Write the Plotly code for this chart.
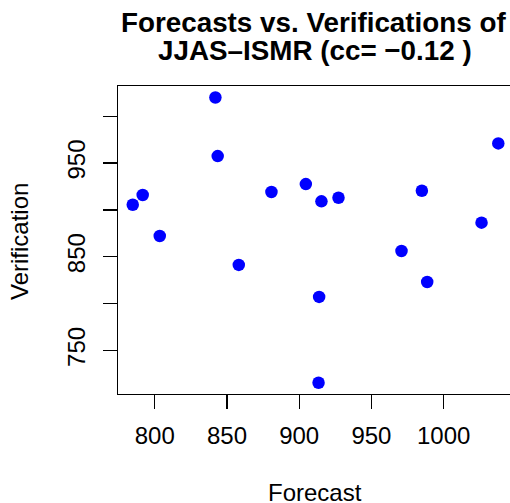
import plotly.graph_objects as go

forecast = [842.0, 843.6, 791.7, 784.8, 803.5, 880.8, 904.6, 915.4, 927.2,
            984.9, 1037.8, 1026.2, 858.2, 970.8, 988.6, 913.8, 913.4]
verification = [1020.0, 957.5, 915.9, 905.5, 872.2, 919.1, 927.6, 909.2, 913.0,
                920.5, 971.0, 886.4, 841.3, 856.2, 823.1, 807.1, 715.5]
x_ticks = [800, 850, 900, 950, 1000]
y_ticks = [750, 800, 850, 900, 950, 1000]
y_ticktext = ["750", "", "850", "", "950", ""]
title_lines = ["Forecasts vs. Verifications of", "JJAS\u2013ISMR (cc= \u22120.12 )"]

FONT = "Liberation Sans, Arial, Helvetica, sans-serif"
W, H = 510, 503
L, R, T, B = 118, 0, 86, 109
pw = W - L - R
ph = H - T - B

def px_x(px):
    return (px - L) / pw

def px_y(py):
    return (H - B - py) / ph

fig = go.Figure()
fig.add_trace(go.Scatter(x=forecast, y=verification, mode="markers",
                         marker=dict(color="#0000FF", size=12.5, line=dict(width=0)),
                         showlegend=False, hoverinfo="skip"))

fig.update_layout(
    width=W, height=H,
    margin=dict(l=L, r=R, t=T, b=B, autoexpand=False),
    paper_bgcolor="white", plot_bgcolor="white",
    font=dict(family=FONT, size=24, color="black"),
    xaxis=dict(range=[774.6, 1045.9], tickvals=x_ticks, ticks="outside", ticklen=14,
               tickwidth=1.3, tickcolor="black", showgrid=False, zeroline=False,
               showline=True, linecolor="black", linewidth=1.3, mirror=True,
               tickfont=dict(size=24), automargin=False, ticklabelstandoff=6),
    yaxis=dict(range=[703.5, 1032.3], tickvals=y_ticks, ticktext=y_ticktext,
               ticks="outside", ticklen=14, tickwidth=1.3, tickcolor="black",
               tickangle=-90, showgrid=False, zeroline=False, showline=True,
               linecolor="black", linewidth=1.3, tickfont=dict(size=24),
               automargin=False, ticklabelstandoff=8),
    annotations=[
        dict(text="<b>" + title_lines[0] + "</b>", xref="paper", yref="paper",
             x=px_x(313), y=px_y(23), xanchor="center", yanchor="middle",
             showarrow=False, font=dict(size=27.8)),
        dict(text="<b>" + title_lines[1] + "</b>", xref="paper", yref="paper",
             x=px_x(315), y=px_y(50), xanchor="center", yanchor="middle",
             showarrow=False, font=dict(size=27.8)),
        dict(text="Forecast", xref="paper", yref="paper",
             x=px_x(315), y=px_y(492), xanchor="center", yanchor="middle",
             showarrow=False, font=dict(size=24)),
        dict(text="Verification", xref="paper", yref="paper",
             x=px_x(19), y=px_y(242), xanchor="center", yanchor="middle",
             textangle=-90, showarrow=False, font=dict(size=24)),
    ],
)

fig.write_html("out.html", config={"displayModeBar": False, "staticPlot": True},
               post_script="document.body.style.margin='0';document.body.style.overflow='hidden';")
